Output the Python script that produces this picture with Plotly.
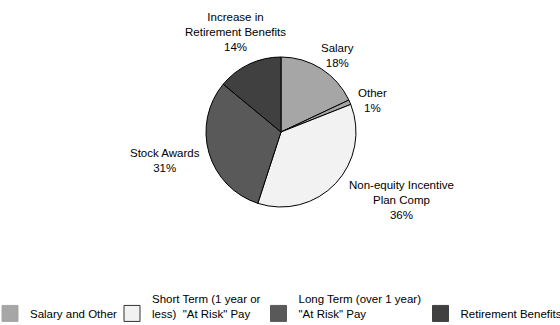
import plotly.graph_objects as go

# Pie slices (clockwise from 12 o'clock)
slice_names = ["Salary", "Other", "Non-equity Incentive<br>Plan Comp", "Stock Awards",
               "Increase in<br>Retirement Benefits"]
slice_values = [18, 1, 36, 31, 14]
slice_colors = ["#a6a6a6", "#a6a6a6", "#f2f2f2", "#595959", "#404040"]

# Legend categories
legend_labels = ["&nbsp;<br>Salary and Other", "Short Term (1 year or<br>less)  \"At Risk\" Pay",
                 "Long Term (over 1 year)<br>\"At Risk\" Pay", "&nbsp;<br>Retirement Benefits"]
legend_colors = ["#a6a6a6", "#f2f2f2", "#595959", "#404040"]
legend_borders = ["#a6a6a6", "#333333", "#595959", "#404040"]

# layout / style (pixels)
FONT = "Arial, Liberation Sans, sans-serif"
FS = 11.5
W, H = 560, 325
cx, cy, r = 281, 132, 75
label_pos = [(337, 55), (372, 100), (401, 200), (165, 161), (235, 32)]
legend_ids = ["legend", "legend", "legend", "legend2"]
legend_widths = [77, 101.5, 127, 105]
legend_lefts = {"legend": -10, "legend2": 420.5}
legend_bottom = -2.5

fig = go.Figure()

fig.add_trace(go.Pie(
    labels=slice_names,
    values=slice_values,
    sort=False,
    direction="clockwise",
    rotation=0,
    marker=dict(colors=slice_colors, line=dict(color="#000000", width=1)),
    textinfo="none",
    showlegend=False,
    hoverinfo="skip",
    domain=dict(x=[(cx - r) / W, (cx + r) / W], y=[1 - (cy + r) / H, 1 - (cy - r) / H]),
))

for name, val, (px, py) in zip(slice_names, slice_values, label_pos):
    fig.add_annotation(
        x=px / W, y=1 - py / H, xref="paper", yref="paper",
        text=f"{name}<br>{val}%", showarrow=False,
        xanchor="center", yanchor="middle", align="center",
        font=dict(family=FONT, size=FS, color="#000000"),
    )

for lab, col, bcol, lw, lid in zip(legend_labels, legend_colors, legend_borders,
                                   legend_widths, legend_ids):
    fig.add_trace(go.Scatter(
        x=[None], y=[None], mode="markers", name=lab,
        marker=dict(symbol="square", size=16, color=col, line=dict(color=bcol, width=1)),
        legendwidth=lw, legend=lid,
    ))

legend_style = dict(orientation="h", xanchor="left", y=legend_bottom / H, yanchor="bottom",
                    valign="bottom", bgcolor="rgba(0,0,0,0)",
                    font=dict(family=FONT, size=FS, color="#000000"))

fig.update_layout(
    width=W, height=H,
    margin=dict(l=0, r=0, t=0, b=0, autoexpand=False),
    paper_bgcolor="white", plot_bgcolor="white",
    xaxis=dict(visible=False), yaxis=dict(visible=False),
    font=dict(family=FONT, size=FS, color="#000000"),
    showlegend=True,
    legend=dict(x=legend_lefts["legend"] / W, **legend_style),
    legend2=dict(x=legend_lefts["legend2"] / W, **legend_style),
)

fig.write_html("out.html")
